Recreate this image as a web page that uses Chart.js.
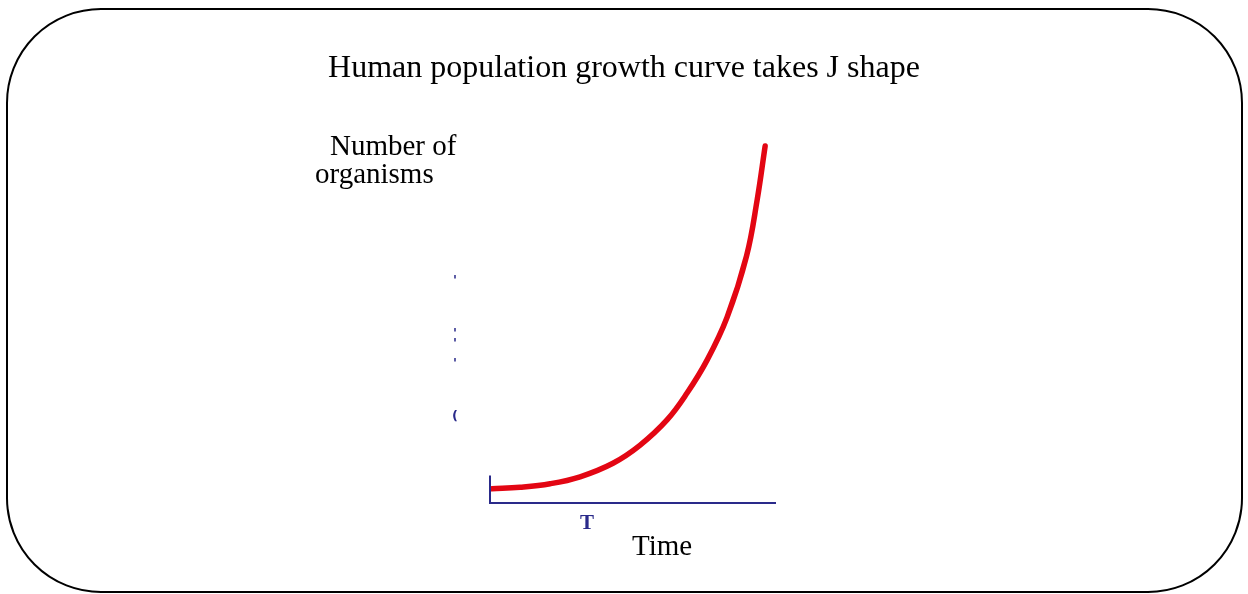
<!DOCTYPE html>
<html>
<head>
<meta charset="utf-8">
<script src="https://cdn.jsdelivr.net/npm/chart.js@4"></script>
<style>
  body { margin: 0; background: #fff; }
  #wrap { position: relative; width: 1248px; height: 594px; overflow: hidden; }
  #frame { position: absolute; left: 6px; top: 8px; width: 1233px; height: 581px;
           border: 2px solid #000; border-radius: 95px; }
  canvas { position: absolute; left: 0; top: 0; }
  .txt { position: absolute; font-family: "Liberation Serif", "Times New Roman", serif; color: #000;
         white-space: nowrap; line-height: 1; }
</style>
</head>
<body>
<div id="wrap">
  <div id="frame"></div>
  <canvas id="chart" width="1248" height="594"></canvas>
  <div class="txt" style="left:0; width:1248px; text-align:center; top:50px; font-size:32px;">Human population growth curve takes J shape</div>
  <div class="txt" style="left:330px; top:131px; font-size:29px;">Number of</div>
  <div class="txt" style="left:315px; top:159px; font-size:29px;">organisms</div>
  <div class="txt" style="left:632px; top:531px; font-size:29px;">Time</div>
</div>
<script>
// curve (time units 0..10, organisms 0..100)
const timeValues = [0.07, 1.05, 2.10, 3.15, 4.30, 5.24, 6.19, 6.89, 7.59, 8.29, 8.97, 9.34, 9.62];
const organisms = [3.97, 4.39, 5.37, 7.32, 11.1, 16.1, 23.2, 30.7, 39.9, 51.9, 69.0, 84.6, 99.7];

// leftovers of cut-off tick labels
const yTickValues = [62.2, 47.4, 44.6, 39.0, 24.0];
const yTickLabels = ["'", "'", "'", "'", "("];
const xTickValues = [3.39];
const xTickLabels = ["T"];

const axisColor = "#2a2a8a";

const axesPlugin = {
  id: "axes",
  afterDatasetsDraw(chart) {
    const { ctx, scales: { x, y } } = chart;
    const x0 = x.getPixelForValue(0), x1 = x.getPixelForValue(10);
    const y0 = y.getPixelForValue(0), yTop = y.getPixelForValue(7.7);
    ctx.save();
    ctx.strokeStyle = axisColor;
    ctx.lineWidth = 2;
    ctx.beginPath();
    ctx.moveTo(x0, yTop);
    ctx.lineTo(x0, y0);
    ctx.lineTo(x1, y0);
    ctx.stroke();

    ctx.fillStyle = axisColor;
    ctx.font = "bold 13px 'DejaVu Sans'";
    ctx.textAlign = "center";
    ctx.textBaseline = "middle";
    yTickValues.forEach((v, i) => {
      ctx.fillText(yTickLabels[i], x0 - 35, y.getPixelForValue(v));
    });
    ctx.font = "bold 21px 'Liberation Serif'";
    xTickValues.forEach((v, i) => {
      ctx.fillText(xTickLabels[i], x.getPixelForValue(v), y0 + 21);
    });
    ctx.restore();
  }
};

new Chart(document.getElementById("chart"), {
  type: "line",
  data: {
    datasets: [{
      data: timeValues.map((t, i) => ({ x: t, y: organisms[i] })),
      borderColor: "#e30613",
      borderWidth: 5.5,
      borderCapStyle: "round",
      pointRadius: 0,
      tension: 0.4,
      fill: false,
      clip: false
    }]
  },
  options: {
    responsive: false,
    animation: false,
    events: [],
    layout: { padding: { left: 490, right: 472, top: 145, bottom: 91 } },
    plugins: { legend: { display: false }, tooltip: { enabled: false } },
    scales: {
      x: { type: "linear", min: 0, max: 10, display: false },
      y: { min: 0, max: 100, display: false }
    }
  },
  plugins: [axesPlugin]
});
</script>
</body>
</html>
